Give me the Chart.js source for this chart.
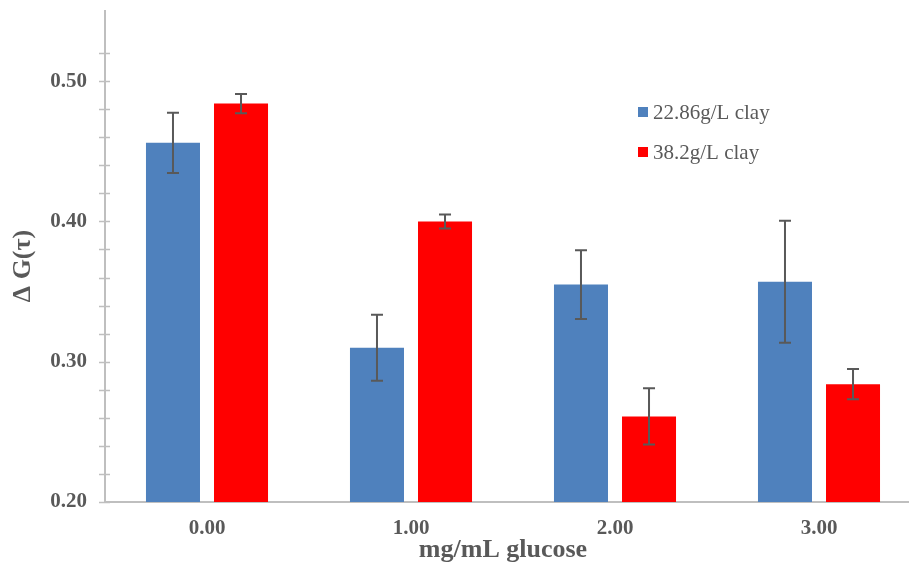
<!DOCTYPE html>
<html>
<head>
  <title>Delta G vs glucose</title>
  <script src="https://cdn.jsdelivr.net/npm/chart.js@4.4.0/dist/chart.umd.min.js"></script>
  <style>
html, body {
  margin: 0;
  padding: 0;
  overflow: hidden;
  background: #ffffff;
}
  </style>
</head>
<body>
  <canvas id="glucoseChart" width="930" height="568"></canvas>
  <script type="text/javascript">
    // glucose concentrations (mg/mL)
    var glucoseLabels = ['0.00', '1.00', '2.00', '3.00'];

    // mean delta G(tau) and standard deviations for each clay loading
    var clayLowValues = [0.456, 0.310, 0.355, 0.357];
    var clayLowErrors = [0.0215, 0.0235, 0.0245, 0.0434];
    var clayHighValues = [0.484, 0.400, 0.261, 0.284];
    var clayHighErrors = [0.0068, 0.0050, 0.0200, 0.0108];

    var textGray = '#595959';
    var axisGray = '#bfbfbf';
    var serif = "'Liberation Serif', 'Times New Roman', serif";

    // error bars with caps, placed through the y scale
    var errorBarPlugin = {
      id: 'errorBars',
      afterDatasetsDraw: function(chart) {
        var ctx = chart.ctx;
        var yScale = chart.scales.y;
        ctx.save();
        ctx.strokeStyle = textGray;
        ctx.lineWidth = 2;
        chart.data.datasets.forEach(function(ds, di) {
          var meta = chart.getDatasetMeta(di);
          meta.data.forEach(function(bar, i) {
            var v = ds.data[i];
            var e = ds.errors[i];
            var top = yScale.getPixelForValue(v + e);
            var bottom = yScale.getPixelForValue(v - e);
            ctx.beginPath();
            ctx.moveTo(bar.x, top);
            ctx.lineTo(bar.x, bottom);
            ctx.moveTo(bar.x - 6, top);
            ctx.lineTo(bar.x + 6, top);
            ctx.moveTo(bar.x - 6, bottom);
            ctx.lineTo(bar.x + 6, bottom);
            ctx.stroke();
          });
        });
        ctx.restore();
      }
    };

    // tick marks crossing the y axis line, axis titles and the side legend
    var axisDecorPlugin = {
      id: 'axisDecor',
      afterDraw: function(chart) {
        var ctx = chart.ctx;
        var yScale = chart.scales.y;
        var area = chart.chartArea;
        ctx.save();
        ctx.strokeStyle = axisGray;
        ctx.lineWidth = 1.5;
        yScale.ticks.forEach(function(t) {
          var hundredths = Math.round(t.value * 100);
          if (hundredths % 2 !== 0) return;
          var y = Math.round(yScale.getPixelForValue(t.value)) + 0.5;
          ctx.beginPath();
          ctx.moveTo(area.left - 6, y);
          ctx.lineTo(area.left + 5, y);
          ctx.stroke();
        });

        // axis titles
        ctx.fillStyle = textGray;
        ctx.textAlign = 'center';
        ctx.textBaseline = 'middle';
        ctx.font = 'bold 26px ' + serif;
        ctx.fillText('mg/mL glucose', 503, 550);
        ctx.save();
        ctx.translate(23, 266);
        ctx.rotate(-Math.PI / 2);
        ctx.fillText('Δ G(τ)', 0, 0);
        ctx.restore();

        // legend
        ctx.font = '21px ' + serif;
        ctx.textAlign = 'left';
        chart.data.datasets.forEach(function(ds, di) {
          var y = 112 + di * 40;
          ctx.fillStyle = ds.backgroundColor;
          ctx.fillRect(638, y - 5, 10, 10);
          ctx.fillStyle = textGray;
          ctx.fillText(ds.label, 653, y + 1);
        });
        ctx.restore();
      }
    };

    var ctx = document.getElementById('glucoseChart').getContext('2d');
    var glucoseChart = new Chart(ctx, {
      type: 'bar',
      data: {
        labels: glucoseLabels,
        datasets: [{
          label: '22.86g/L clay',
          data: clayLowValues,
          errors: clayLowErrors,
          backgroundColor: '#4f81bd',
          categoryPercentage: 0.667,
          barPercentage: 0.794
        }, {
          label: '38.2g/L clay',
          data: clayHighValues,
          errors: clayHighErrors,
          backgroundColor: '#ff0000',
          categoryPercentage: 0.667,
          barPercentage: 0.794
        }]
      },
      options: {
        responsive: false,
        animation: false,
        layout: {
          padding: { top: 11, right: 9, left: 0, bottom: 0 }
        },
        plugins: {
          legend: { display: false },
          tooltip: { enabled: false }
        },
        scales: {
          x: {
            grid: {
              display: false,
              drawTicks: false
            },
            border: { color: axisGray, width: 2 },
            ticks: {
              color: textGray,
              padding: 14,
              font: { family: serif, size: 21, weight: 'bold' }
            },
            afterFit: function(scale) {
              scale.height = 66;
              scale.paddingLeft = 0;
              scale.paddingRight = 0;
            }
          },
          y: {
            min: 0.2,
            max: 0.55,
            grid: {
              display: false,
              drawTicks: false
            },
            border: { color: axisGray, width: 2 },
            ticks: {
              stepSize: 0.02,
              autoSkip: false,
              color: textGray,
              padding: 18,
              font: { family: serif, size: 21, weight: 'bold' },
              callback: function(value) {
                var hundredths = Math.round(value * 100);
                return hundredths % 10 === 0 ? (hundredths / 100).toFixed(2) : '';
              }
            },
            afterFit: function(scale) {
              scale.width = 105;
              scale.paddingTop = 0;
              scale.paddingBottom = 0;
            }
          }
        }
      },
      plugins: [errorBarPlugin, axisDecorPlugin]
    });
  </script>
</body>
</html>
